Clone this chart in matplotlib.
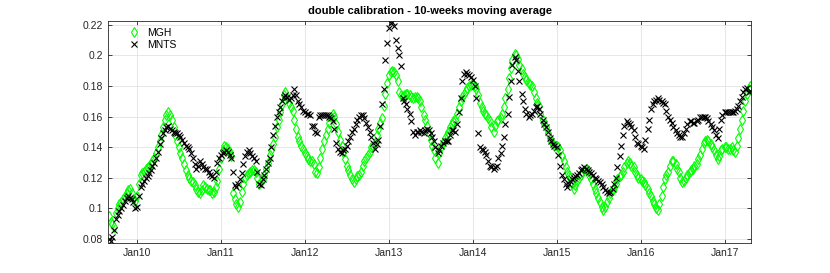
import numpy as np
import pandas as pd
import matplotlib
matplotlib.use('Agg')
import matplotlib.pyplot as plt
import matplotlib.dates as mdates
from matplotlib.ticker import FuncFormatter

# samples on the 1st/15th and on the 8th/22nd of each month, Sep 2009 .. Apr 2017
dates_a = pd.date_range('2009-09-01', '2017-04-15', freq='SMS')
dates_b = dates_a + pd.Timedelta(days=7)

mgh_a = [
    0.095, 0.090, 0.097, 0.103, 0.106, 0.110, 0.113, 0.106,
    0.108, 0.122, 0.124, 0.127, 0.129, 0.133, 0.140, 0.148, 0.158, 0.163, 0.158, 0.148,
    0.140, 0.133, 0.125, 0.120, 0.117, 0.113, 0.110, 0.115, 0.113, 0.112, 0.111, 0.118,
    0.133, 0.141, 0.139, 0.134, 0.106, 0.101, 0.111, 0.120, 0.123, 0.125, 0.124, 0.116,
    0.119, 0.126, 0.135, 0.142, 0.153, 0.163, 0.174, 0.172, 0.166, 0.158, 0.147, 0.141,
    0.136, 0.132, 0.131, 0.124, 0.127, 0.139, 0.148, 0.156, 0.162, 0.155, 0.145, 0.137,
    0.128, 0.122, 0.117, 0.121, 0.124, 0.131, 0.135, 0.140, 0.143, 0.152, 0.159, 0.175,
    0.187, 0.190, 0.187, 0.176, 0.173, 0.175, 0.174, 0.172, 0.173, 0.170, 0.161, 0.154,
    0.145, 0.138, 0.130, 0.140, 0.146, 0.150, 0.155, 0.158, 0.166, 0.173, 0.177, 0.180,
    0.181, 0.178, 0.169, 0.164, 0.161, 0.157, 0.150, 0.157, 0.159, 0.166, 0.178, 0.192,
    0.201, 0.198, 0.191, 0.186, 0.182, 0.180, 0.172, 0.167, 0.158, 0.153, 0.146, 0.142,
    0.141, 0.138, 0.131, 0.124, 0.120, 0.113, 0.118, 0.122, 0.125, 0.125, 0.119, 0.113,
    0.107, 0.101, 0.101, 0.107, 0.112, 0.116, 0.121, 0.124, 0.130, 0.130, 0.127, 0.122,
    0.119, 0.117, 0.113, 0.108, 0.103, 0.099, 0.108, 0.119, 0.124, 0.131, 0.129, 0.124,
    0.117, 0.120, 0.124, 0.126, 0.129, 0.135, 0.143, 0.145, 0.142, 0.138, 0.132, 0.138,
    0.140, 0.139, 0.140, 0.137, 0.146, 0.158, 0.170, 0.178,
]
mgh_b = [
    0.091, 0.088, 0.100, 0.104, 0.108, 0.112, 0.110, 0.105,
    0.116, 0.123, 0.126, 0.128, 0.131, 0.136, 0.144, 0.153, 0.161, 0.161, 0.153, 0.144,
    0.136, 0.129, 0.122, 0.118, 0.115, 0.111, 0.112, 0.114, 0.112, 0.110, 0.114, 0.126,
    0.138, 0.140, 0.137, 0.110, 0.103, 0.104, 0.116, 0.122, 0.124, 0.125, 0.120, 0.117,
    0.122, 0.130, 0.138, 0.147, 0.158, 0.168, 0.176, 0.169, 0.164, 0.152, 0.144, 0.139,
    0.134, 0.131, 0.129, 0.123, 0.133, 0.144, 0.152, 0.160, 0.160, 0.150, 0.141, 0.132,
    0.125, 0.119, 0.119, 0.122, 0.128, 0.133, 0.137, 0.141, 0.148, 0.156, 0.167, 0.182,
    0.189, 0.189, 0.183, 0.174, 0.174, 0.175, 0.173, 0.173, 0.172, 0.166, 0.158, 0.149,
    0.141, 0.133, 0.136, 0.143, 0.148, 0.153, 0.157, 0.162, 0.170, 0.175, 0.179, 0.181,
    0.180, 0.174, 0.166, 0.162, 0.159, 0.153, 0.154, 0.158, 0.162, 0.172, 0.185, 0.197,
    0.200, 0.194, 0.188, 0.184, 0.181, 0.176, 0.169, 0.162, 0.155, 0.149, 0.144, 0.141,
    0.140, 0.134, 0.127, 0.122, 0.116, 0.115, 0.120, 0.124, 0.126, 0.122, 0.116, 0.110,
    0.104, 0.099, 0.104, 0.110, 0.114, 0.119, 0.122, 0.127, 0.131, 0.128, 0.124, 0.120,
    0.118, 0.115, 0.110, 0.105, 0.100, 0.103, 0.114, 0.122, 0.128, 0.131, 0.126, 0.120,
    0.118, 0.122, 0.125, 0.128, 0.132, 0.139, 0.144, 0.144, 0.140, 0.135, 0.134, 0.139,
    0.140, 0.139, 0.138, 0.141, 0.152, 0.164, 0.175, 0.180,
]

mnts_a = [
    0.080, 0.081, 0.093, 0.098, 0.102, 0.107, 0.107, 0.104,
    0.101, 0.114, 0.118, 0.121, 0.125, 0.130, 0.137, 0.146, 0.151, 0.154, 0.151, 0.149,
    0.148, 0.145, 0.141, 0.139, 0.133, 0.126, 0.131, 0.127, 0.126, 0.122, 0.120, 0.130,
    0.135, 0.137, 0.137, 0.133, 0.115, 0.116, 0.123, 0.134, 0.138, 0.134, 0.131, 0.116,
    0.119, 0.126, 0.133, 0.148, 0.160, 0.166, 0.173, 0.173, 0.172, 0.178, 0.170, 0.166,
    0.163, 0.162, 0.154, 0.150, 0.160, 0.161, 0.161, 0.160, 0.157, 0.143, 0.137, 0.138,
    0.141, 0.147, 0.152, 0.158, 0.161, 0.159, 0.153, 0.147, 0.139, 0.145, 0.168, 0.197,
    0.218, 0.222, 0.210, 0.200, 0.172, 0.168, 0.162, 0.150, 0.150, 0.151, 0.149, 0.152,
    0.149, 0.144, 0.136, 0.141, 0.144, 0.144, 0.151, 0.150, 0.163, 0.183, 0.189, 0.187,
    0.184, 0.172, 0.140, 0.138, 0.135, 0.128, 0.126, 0.128, 0.136, 0.147, 0.162, 0.183,
    0.199, 0.190, 0.175, 0.165, 0.160, 0.162, 0.166, 0.165, 0.158, 0.153, 0.146, 0.142,
    0.140, 0.128, 0.119, 0.114, 0.118, 0.120, 0.122, 0.125, 0.127, 0.125, 0.123, 0.120,
    0.118, 0.116, 0.112, 0.110, 0.113, 0.120, 0.134, 0.148, 0.157, 0.155, 0.151, 0.143,
    0.141, 0.139, 0.152, 0.165, 0.170, 0.172, 0.170, 0.168, 0.160, 0.156, 0.151, 0.148,
    0.147, 0.152, 0.157, 0.156, 0.157, 0.160, 0.160, 0.159, 0.155, 0.151, 0.146, 0.158,
    0.163, 0.163, 0.163, 0.164, 0.167, 0.173, 0.178, 0.176,
]
mnts_b = [
    0.079, 0.086, 0.096, 0.100, 0.105, 0.108, 0.106, 0.100,
    0.108, 0.116, 0.120, 0.123, 0.128, 0.133, 0.142, 0.149, 0.153, 0.152, 0.150, 0.149,
    0.147, 0.143, 0.140, 0.136, 0.129, 0.128, 0.129, 0.126, 0.124, 0.121, 0.124, 0.133,
    0.136, 0.138, 0.135, 0.124, 0.114, 0.119, 0.129, 0.137, 0.136, 0.133, 0.124, 0.115,
    0.122, 0.130, 0.140, 0.154, 0.163, 0.170, 0.174, 0.171, 0.174, 0.174, 0.168, 0.164,
    0.162, 0.161, 0.154, 0.149, 0.161, 0.161, 0.161, 0.159, 0.152, 0.139, 0.136, 0.139,
    0.144, 0.150, 0.155, 0.160, 0.161, 0.156, 0.150, 0.143, 0.142, 0.154, 0.178, 0.208,
    0.221, 0.219, 0.205, 0.193, 0.170, 0.165, 0.157, 0.148, 0.150, 0.150, 0.151, 0.151,
    0.147, 0.140, 0.138, 0.143, 0.144, 0.148, 0.151, 0.155, 0.172, 0.188, 0.188, 0.186,
    0.180, 0.149, 0.139, 0.137, 0.131, 0.127, 0.127, 0.133, 0.141, 0.155, 0.173, 0.194,
    0.197, 0.183, 0.170, 0.162, 0.161, 0.164, 0.167, 0.162, 0.155, 0.150, 0.144, 0.141,
    0.135, 0.122, 0.116, 0.116, 0.119, 0.121, 0.123, 0.126, 0.126, 0.124, 0.122, 0.119,
    0.117, 0.114, 0.111, 0.111, 0.116, 0.127, 0.141, 0.154, 0.156, 0.153, 0.147, 0.142,
    0.140, 0.145, 0.158, 0.168, 0.171, 0.171, 0.169, 0.164, 0.158, 0.153, 0.149, 0.147,
    0.149, 0.155, 0.157, 0.156, 0.158, 0.160, 0.160, 0.157, 0.153, 0.148, 0.152, 0.161,
    0.163, 0.163, 0.163, 0.165, 0.170, 0.176, 0.179, 0.177,
]

yticks = [0.08, 0.10, 0.12, 0.14, 0.16, 0.18, 0.20, 0.22]

plt.rcParams['font.family'] = ['Liberation Sans', 'DejaVu Sans']
dark = '#262626'

dates = dates_a.append(dates_b)
mgh = np.array(mgh_a + mgh_b)
mnts = np.array(mnts_a + mnts_b)
order = np.argsort(dates.values)

fig = plt.figure(figsize=(8.3, 2.73), dpi=100)
ax = fig.add_axes([0.130, 0.111, 0.775, 0.813])

ax.plot(dates[order], mgh[order], linestyle='none', marker='d', markersize=5.5,
        markerfacecolor='none', markeredgecolor='#00ff00', markeredgewidth=0.8, label='MGH')
ax.plot(dates[order], mnts[order], linestyle='none', marker='x', markersize=4.5,
        color='black', markeredgewidth=0.8, label='MNTS')

ax.set_xlim(pd.Timestamp('2009-08-26'), pd.Timestamp('2017-04-26'))
ax.set_ylim(0.0776, 0.2227)
ax.set_yticks(yticks)
ax.yaxis.set_major_formatter(FuncFormatter(lambda v, p: '%g' % round(v, 2)))
ax.xaxis.set_major_locator(mdates.YearLocator())
ax.xaxis.set_major_formatter(mdates.DateFormatter('%b%y'))

ax.grid(True, color='#e3e3e3', linewidth=0.6)
ax.set_axisbelow(True)
for s in ax.spines.values():
    s.set_color(dark)
    s.set_linewidth(0.6)
ax.tick_params(direction='in', length=3, width=0.6, colors=dark, labelsize=7.5,
               top=True, right=True)

ax.set_title('double calibration - 10-weeks moving average', fontsize=8,
             fontweight='bold', pad=5)
ax.legend(loc='upper left', frameon=False, fontsize=7.5, handlelength=1.2,
          handletextpad=0.6, labelspacing=0.2, borderaxespad=0.3,
          bbox_to_anchor=(0.02, 1.0))

fig.savefig('out.png', dpi=100)
